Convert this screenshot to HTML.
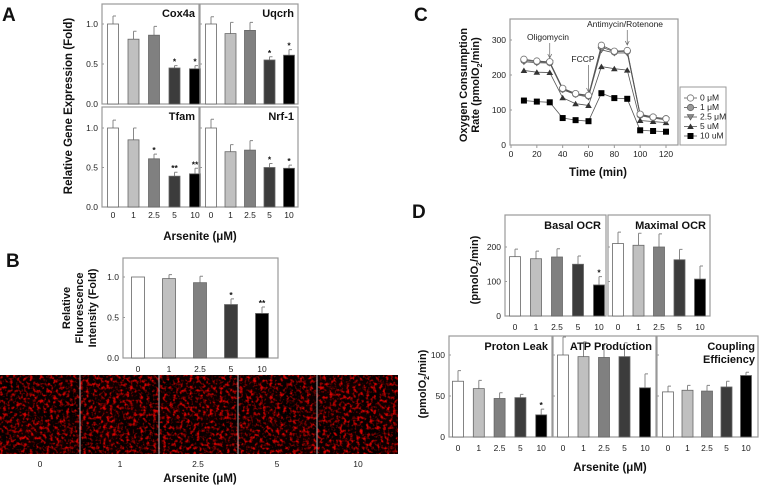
<!DOCTYPE html>
<html><head><meta charset="utf-8"><style>
body{margin:0;background:#fff;width:760px;height:485px;overflow:hidden}
svg{font-family:"Liberation Sans",Arial,sans-serif;display:block}
.t{font-size:8.5px;fill:#222}
.b{font-weight:bold;fill:#111}
</style></head><body>
<svg id="fig" width="760" height="485" viewBox="0 0 760 485">
<defs>
<filter id="cells" x="0" y="0" width="100%" height="100%" color-interpolation-filters="sRGB">
<feTurbulence type="fractalNoise" baseFrequency="0.3" numOctaves="2" seed="3"/>
<feColorMatrix type="matrix" values="3.4 0 0 0 -1.6  0 0 0 0 0  0 0 0 0 0  0 0 0 0 1"/>
</filter>
<filter id="cells2" x="0" y="0" width="100%" height="100%" color-interpolation-filters="sRGB">
<feTurbulence type="fractalNoise" baseFrequency="0.05" numOctaves="1" seed="8"/>
<feColorMatrix type="matrix" values="1.2 0 0 0 -0.35  0 0 0 0 0  0 0 0 0 0  0 0 0 0 0.6"/>
</filter>
</defs>
</svg>
<script>
// ---------- data ----------
const doses = ['0','1','2.5','5','10'];
const fills = ['#ffffff','#c0c0c0','#808080','#3c3c3c','#000000'];
const cox4a = [1.0,0.81,0.86,0.45,0.44];
const cox4aErr = [0.10,0.10,0.11,0.03,0.04];
const cox4aStar = ['','','','*','*'];
const uqcrh = [1.0,0.88,0.92,0.55,0.61];
const uqcrhErr = [0.09,0.14,0.10,0.04,0.07];
const uqcrhStar = ['','','','*','*'];
const tfam = [1.0,0.85,0.61,0.39,0.42];
const tfamErr = [0.10,0.15,0.06,0.05,0.07];
const tfamStar = ['','','*','**','**'];
const nrf1 = [1.0,0.70,0.72,0.50,0.49];
const nrf1Err = [0.11,0.09,0.12,0.05,0.04];
const nrf1Star = ['','','','*','*'];
const fluor = [1.0,0.98,0.93,0.66,0.55];
const fluorErr = [0,0.05,0.08,0.07,0.08];
const fluorStar = ['','','','*','**'];
const basal = [172,166,171,150,90];
const basalErr = [22,22,24,24,24];
const basalStar = ['','','','','*'];
const maximal = [210,205,200,163,107];
const maximalErr = [33,35,38,30,38];
const maximalStar = ['','','','',''];
const proton = [68,59,47,48,27];
const protonErr = [13,10,7,4,7];
const protonStar = ['','','','','*'];
const atp = [100,98,97,98,60];
const atpErr = [22,18,17,17,17];
const atpStar = ['','','','',''];
const coupling = [55,57,56,61,75];
const couplingErr = [7,6,7,7,4];
const couplingStar = ['','','','',''];
const times = [10,20,30,40,50,60,70,80,90,100,110,120];
const ocr0 = [245,240,238,162,147,142,285,268,270,88,80,75];
const ocr1 = [242,238,236,160,146,140,280,266,268,86,79,75];
const ocr25 = [238,235,234,158,144,137,272,263,263,84,77,72];
const ocr5 = [213,208,207,135,118,113,224,218,214,70,67,64];
const ocr10 = [127,124,122,77,71,68,148,134,132,42,40,38];
const ocrTicksY = [0,100,200,300];
const ocrTicksX = [0,20,40,60,80,100,120];
const legendLabels = ['0 \u03bcM','1 \u03bcM','2.5 \u03bcM','5 uM','10 uM'];

const NS='http://www.w3.org/2000/svg';
const svg=document.getElementById('fig');
function mk(tag,attrs,parent){const e=document.createElementNS(NS,tag);for(const k in attrs)e.setAttribute(k,attrs[k]);(parent||svg).appendChild(e);return e;}
function txt(x,y,s,cls,anchor,size,parent){const e=mk('text',{x:x,y:y,class:cls,'text-anchor':anchor||'middle'},parent);if(size)e.setAttribute('font-size',size);e.textContent=s;return e;}

function barPanel(o){
  const g=mk('g',{});
  
  
  const yS=v=>o.y0-v*o.ppu;
  const xS=i=>o.cx0+i*o.step;
  const box=mk('rect',{x:o.x0,y:o.top,width:o.x1-o.x0,height:o.y0-o.top,fill:'none',stroke:'#999','stroke-width':1.2},g);
  
  
  o.vals.forEach((v,i)=>{
    const x=xS(i),w=o.bw;
    const eTop=yS(v+o.err[i]);
    if(o.err[i]>0){
      const el=mk('path',{d:`M${x} ${yS(v)}V${eTop}M${x} ${eTop}H${x+3}`,stroke:'#888','stroke-width':1,fill:'none'},g);
      
      
    }
    const r=mk('rect',{x:x-w/2,y:yS(v),width:w,height:v*o.ppu,fill:fills[i],stroke:'#666','stroke-width':0.8},g);
    
    
    if(o.star[i]){const s=txt(x,eTop-1,o.star[i],'t b','middle','7',g);
      
      }
    if(o.xlab){const l=txt(x,o.xlabY,doses[i],'t','middle',null,g);
      
      }
  });
  o.ticks.forEach(tv=>{
    mk('line',{x1:o.x0,x2:o.x0+2,y1:yS(tv),y2:yS(tv),stroke:'#999'},g);
    if(o.ylab){const l=txt(o.x0-4,yS(tv)+3,o.tickFmt?o.tickFmt(tv):String(tv),'t','end',null,g);
      
      }
  });
  (o.title||[]).forEach((s,k)=>{const t=txt(o.titleX,o.titleY+k*13,s,'b','end','11',g);
    
    });
}
const f1=v=>v.toFixed(1);
const tA=[0,0.5,1.0];
barPanel({name:'cox4a-chart',x0:102,x1:199,top:4,y0:104,ppu:80,cx0:113,step:20.5,bw:11,vals:cox4a,err:cox4aErr,star:cox4aStar,ticks:tA,ylab:true,tickFmt:f1,title:['Cox4a'],titleX:195,titleY:17});
barPanel({name:'uqcrh-chart',x0:200,x1:298,top:4,y0:104,ppu:80,cx0:211,step:19.5,bw:11,vals:uqcrh,err:uqcrhErr,star:uqcrhStar,ticks:tA,title:['Uqcrh'],titleX:294,titleY:17});
barPanel({name:'tfam-chart',x0:102,x1:199,top:107,y0:207,ppu:79,cx0:113,step:20.5,bw:11,vals:tfam,err:tfamErr,star:tfamStar,ticks:tA,ylab:true,tickFmt:f1,xlab:true,xlabY:218,title:['Tfam'],titleX:195,titleY:120});
barPanel({name:'nrf1-chart',x0:200,x1:298,top:107,y0:207,ppu:79,cx0:211,step:19.5,bw:11,vals:nrf1,err:nrf1Err,star:nrf1Star,ticks:tA,xlab:true,xlabY:218,title:['Nrf-1'],titleX:294,titleY:120});
barPanel({name:'fluorescence-chart',x0:123,x1:278,top:258,y0:358,ppu:81,cx0:138,step:31,bw:13,vals:fluor,err:fluorErr,star:fluorStar,ticks:tA,ylab:true,tickFmt:f1,xlab:true,xlabY:372});
barPanel({name:'basal-ocr-chart',x0:505,x1:606,top:215,y0:316,ppu:0.345,cx0:515,step:21,bw:11,vals:basal,err:basalErr,star:basalStar,ticks:[0,100,200],ylab:true,xlab:true,xlabY:330,title:['Basal OCR'],titleX:601,titleY:229});
barPanel({name:'maximal-ocr-chart',x0:608,x1:710,top:215,y0:316,ppu:0.345,cx0:618,step:20.5,bw:11,vals:maximal,err:maximalErr,star:maximalStar,ticks:[0,100,200],xlab:true,xlabY:330,title:['Maximal OCR'],titleX:706,titleY:229});
barPanel({name:'proton-leak-chart',x0:449,x1:552,top:336,y0:437,ppu:0.82,cx0:458,step:20.8,bw:11,vals:proton,err:protonErr,star:protonStar,ticks:[0,50,100],ylab:true,xlab:true,xlabY:451,title:['Proton Leak'],titleX:548,titleY:350});
barPanel({name:'atp-production-chart',x0:553,x1:656,top:336,y0:437,ppu:0.82,cx0:563,step:20.5,bw:11,vals:atp,err:atpErr,star:atpStar,ticks:[0,50,100],xlab:true,xlabY:451,title:['ATP Production'],titleX:652,titleY:350});
barPanel({name:'coupling-efficiency-chart',x0:657,x1:758,top:336,y0:437,ppu:0.82,cx0:668,step:19.5,bw:11,vals:coupling,err:couplingErr,star:couplingStar,ticks:[0,50,100],xlab:true,xlabY:451,title:['Coupling','Efficiency'],titleX:755,titleY:350});

const cg=mk('g',{});


const cx=t=>511+t*(155/120);
const cy=v=>145-v*0.35;
const fr=mk('rect',{x:510,y:19,width:168,height:126,fill:'none',stroke:'#999','stroke-width':1.2},cg);


ocrTicksY.forEach(v=>{mk('line',{x1:510,x2:512,y1:cy(v),y2:cy(v),stroke:'#999'},cg);
  const l=txt(506,cy(v)+3,String(v),'t','end',null,cg);
  
  });
ocrTicksX.forEach(v=>{mk('line',{x1:cx(v),x2:cx(v),y1:145,y2:148,stroke:'#999'},cg);
  const l=txt(cx(v),157,String(v),'t','middle',null,cg);
  
  });
const series=[ocr0,ocr1,ocr25,ocr5,ocr10];
const mkFill=['#fff','#999','#888','#333','#000'];
const mkStroke=['#777','#666','#555','#222','#000'];
function marker(k,x,y,parent){
  let e;
  if(k<2)e=mk('circle',{cx:x,cy:y,r:3.2,fill:mkFill[k],stroke:mkStroke[k],'stroke-width':0.8},parent);
  else if(k==2)e=mk('path',{d:`M${x-3.3} ${y-2.5}H${x+3.3}L${x} ${y+3}Z`,fill:mkFill[k],stroke:mkStroke[k],'stroke-width':0.6},parent);
  else if(k==3)e=mk('path',{d:`M${x-3.3} ${y+2.5}H${x+3.3}L${x} ${y-3}Z`,fill:mkFill[k]},parent);
  else e=mk('rect',{x:x-3,y:y-3,width:6,height:6,fill:'#000'},parent);
  return e;
}
for(let k=series.length-1;k>=0;k--){
  const s=series[k];
  const p=mk('polyline',{points:s.map((v,i)=>cx(times[i])+','+cy(v)).join(' '),fill:'none',stroke:'#555','stroke-width':0.8},cg);
  
  
  s.forEach((v,i)=>{const m=marker(k,cx(times[i]),cy(v),cg);
    
    });
}
function ann(t,label,lx,ly,tipY){
  const a=mk('path',{d:`M${cx(t)} ${ly+3}V${tipY}M${cx(t)-2} ${tipY-4}L${cx(t)} ${tipY}L${cx(t)+2} ${tipY-4}`,stroke:'#666',fill:'none','stroke-width':0.7},cg);
  
  
  const l=txt(lx,ly,label,'t','middle','7.5',cg);
  
  
}
ann(30,'Oligomycin',548,40,58);
ann(60,'FCCP',583,62,92);
ann(90,'Antimycin/Rotenone',625,27,45);
const lg=mk('g',{});


mk('rect',{x:680,y:87,width:46,height:58,fill:'#fff',stroke:'#999'},lg);
legendLabels.forEach((s,k)=>{
  const y=98+k*9.5;
  const en=mk('g',{},lg);
  
  
  mk('line',{x1:684,x2:697,y1:y,y2:y,stroke:'#555','stroke-width':0.8},en);
  marker(k,690.5,y,en);
  txt(700,y+2.5,s,'t','start','6.5',en);
});
</script>
<script>
const S=document.getElementById('fig');
S.insertAdjacentHTML('beforeend',`
<text x="2" y="21" font-size="19" class="b">A</text>
<text x="6" y="267" font-size="19" class="b">B</text>
<text x="414" y="21" font-size="19" class="b">C</text>
<text x="412" y="218" font-size="19" class="b">D</text>
<text transform="translate(72,106) rotate(-90)" text-anchor="middle" font-size="11.5" class="b">Relative Gene Expression (Fold)</text>
<text x="200" y="240" text-anchor="middle" font-size="11.5" class="b">Arsenite (\u03bcM)</text>
<text transform="translate(70,308) rotate(-90)" text-anchor="middle" font-size="11" class="b"><tspan x="0" dy="0">Relative</tspan><tspan x="0" dy="13">Fluorescence</tspan><tspan x="0" dy="13">Intensity (Fold)</tspan></text>
<text transform="translate(467,85) rotate(-90)" text-anchor="middle" font-size="11" class="b"><tspan x="0" dy="0">Oxygen Consumption</tspan><tspan x="0" dy="12">Rate (pmolO<tspan font-size="7" dy="3">2</tspan><tspan dy="-3">/min)</tspan></tspan></text>
<text x="598" y="176" text-anchor="middle" font-size="11.5" class="b">Time (min)</text>
<text transform="translate(478,270) rotate(-90)" text-anchor="middle" font-size="11" class="b">(pmolO<tspan font-size="7" dy="3">2</tspan><tspan dy="-3">/min)</tspan></text>
<text transform="translate(426,384) rotate(-90)" text-anchor="middle" font-size="11" class="b">(pmolO<tspan font-size="7" dy="3">2</tspan><tspan dy="-3">/min)</tspan></text>
<text x="610" y="471" text-anchor="middle" font-size="11.5" class="b">Arsenite (\u03bcM)</text>
<g>
<rect x="0" y="375" width="398" height="79" fill="#160000"/>
<rect x="0" y="375" width="398" height="79" filter="url(#cells2)"/>
<rect x="0" y="375" width="398" height="79" filter="url(#cells)" opacity="0.8"/>
<line x1="80" y1="375" x2="80" y2="454" stroke="#aaa" stroke-width="1"/>
<line x1="159" y1="375" x2="159" y2="454" stroke="#aaa" stroke-width="1"/>
<line x1="238" y1="375" x2="238" y2="454" stroke="#aaa" stroke-width="1"/>
<line x1="317" y1="375" x2="317" y2="454" stroke="#aaa" stroke-width="1"/>
</g>
<g font-size="9" class="t" text-anchor="middle">
<text x="40" y="467">0</text><text x="120" y="467">1</text><text x="198" y="467">2.5</text><text x="277" y="467">5</text><text x="358" y="467">10</text>
</g>
<text x="200" y="482" text-anchor="middle" font-size="11.5" class="b">Arsenite (\u03bcM)</text>
`);
</script>
</body></html>
